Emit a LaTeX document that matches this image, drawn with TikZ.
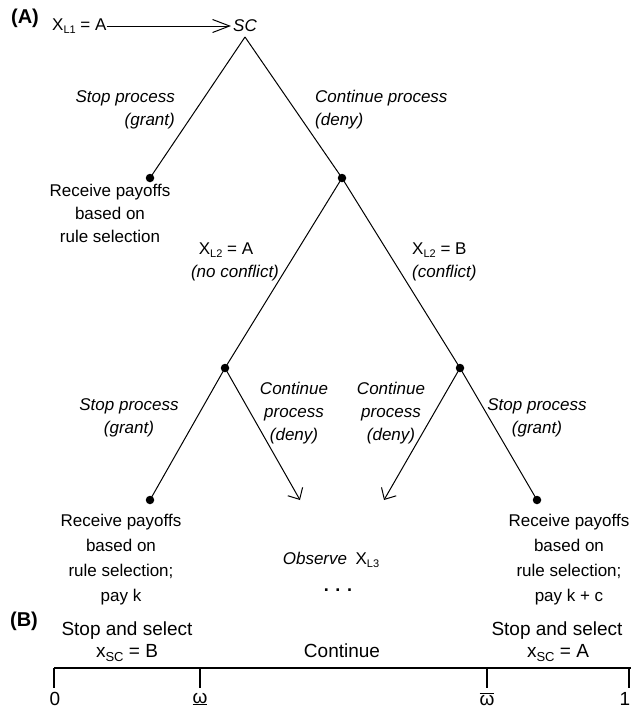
\documentclass[tikz,border=0pt]{standalone}
\usepackage{fontspec}
\setmainfont{Liberation Sans}
\usetikzlibrary{arrows.meta}
\newcommand{\mysub}[1]{\raisebox{-0.35ex}{\fontsize{11}{11}\selectfont #1}}
\newcommand{\mysubB}[1]{\raisebox{-0.45ex}{\fontsize{13}{13}\selectfont #1}}
\begin{document}
\begin{tikzpicture}[x=1pt,y=-1pt,
  txt/.style={inner sep=0pt, font=\fontsize{17}{23}\selectfont, align=center},
  lab/.style={inner sep=0pt, font=\fontsize{17}{23}\selectfont\itshape, align=center},
  btxt/.style={inner sep=0pt, font=\fontsize{19}{19}\selectfont, align=center},
  ttl/.style={inner sep=0pt, font=\fontsize{20}{20}\selectfont\bfseries},
  dotnode/.style={circle, fill=black, inner sep=0pt, minimum size=8.5pt},
  branch/.style={line width=1pt},
  tip/.style={-{Straight Barb[length=9pt,width=17pt,line width=1pt]}},
  axisline/.style={line width=2.6pt},
  tick/.style={line width=1.2pt},
]
\useasboundingbox (0,0) rectangle (631,715);

% ---- Part A ----
\node[ttl] (A) at (25,18) {(A)};
\node[txt, anchor=west] (xl1) at (52,26) {X\mysub{L1} = A};
\node[lab, inner sep=1pt] (sc) at (245,26) {SC};
\coordinate (apex) at (245,37);
\draw[branch, -{Straight Barb[length=17pt,width=13pt,line width=1pt]}, shorten >=1pt] (xl1.east) -- (sc.west);

\node[dotnode] (d1) at (150,178) {};
\node[dotnode] (d2) at (342,178) {};
\node[dotnode] (d3) at (225,368) {};
\node[dotnode] (d4) at (460,368) {};
\node[dotnode] (d5) at (150,500) {};
\node[dotnode] (d6) at (537,500) {};
\coordinate (e1) at (300,500);
\coordinate (e2) at (384,500);

\draw[branch] (apex) -- (d1.center);
\draw[branch] (apex) -- (d2.center);
\draw[branch] (d2.center) -- (d3.center);
\draw[branch] (d2.center) -- (d4.center);
\draw[branch] (d3.center) -- (d5.center);
\draw[branch] (d4.center) -- (d6.center);
\draw[branch, tip] (d3.center) -- (e1);
\draw[branch, tip] (d4.center) -- (e2);

\node[lab, align=right, anchor=east] (l1) at (175,109.5) {Stop process\\(grant)};
\node[lab, align=left, anchor=west] (l2) at (315,109.5) {Continue process\\(deny)};
\node[txt] (leaf1) at (110,213) {Receive payoffs\\based on\\rule selection};

\node[txt] (xl2a) at (226,250) {X\mysub{L2} = A};
\node[lab] (nocf) at (235,273) {(no conflict)};
\node[txt, anchor=west] (xl2b) at (412,250) {X\mysub{L2} = B};
\node[lab, anchor=west] (cf) at (412,273) {(conflict)};

\node[lab] (l3) at (129,417.5) {Stop process\\(grant)};
\node[lab] (l4) at (294,413.5) {Continue\\process\\(deny)};
\node[lab] (l5) at (391,413.5) {Continue\\process\\(deny)};
\node[lab] (l6) at (537,417.5) {Stop process\\(grant)};

\node[txt, font=\fontsize{17}{25}\selectfont] (leaf2) at (121,559.5) {Receive payoffs\\based on\\rule selection;\\pay k};
\node[txt, font=\fontsize{17}{25}\selectfont] (leaf3) at (569,559.5) {Receive payoffs\\based on\\rule selection;\\pay k + c};
\node[txt] (obs) at (331,560) {\textit{Observe}\enspace X\mysub{L3}};
\node[txt, font=\fontsize{18}{18}\selectfont\bfseries] (more) at (338,590) {. . .};

% ---- Part B ----
\node[ttl] (B) at (24,621) {(B)};
\node[btxt] (ssb) at (127,631) {Stop and select};
\node[btxt] (xscb) at (127,653) {x\mysubB{SC} = B};
\node[btxt] (cont) at (342,651) {Continue};
\node[btxt] (ssa) at (557,631) {Stop and select};
\node[btxt] (xsca) at (558,653) {x\mysubB{SC} = A};

\coordinate (a0) at (54,668);
\coordinate (a1) at (200,668);
\coordinate (a2) at (487,668);
\coordinate (a3) at (629,668);
\coordinate (aend) at (632,668);
\draw[axisline] (a0) -- (aend);

\node[btxt] (z0) at (55,699) {0};
\node[btxt] (w1) at (200,699) {\underline{ω}};
\node[btxt] (w2) at (487,699) {$\overline{\hbox{ω}}$};
\node[btxt] (one) at (625,699) {1};

\coordinate (b0) at (54,688);
\coordinate (b1) at (200,688);
\coordinate (b2) at (487,688);
\coordinate (b3) at (629,688);
\draw[tick] (a0) -- (b0);
\draw[tick] (a1) -- (b1);
\draw[tick] (a2) -- (b2);
\draw[tick] (a3) -- (b3);
\end{tikzpicture}
\end{document}
